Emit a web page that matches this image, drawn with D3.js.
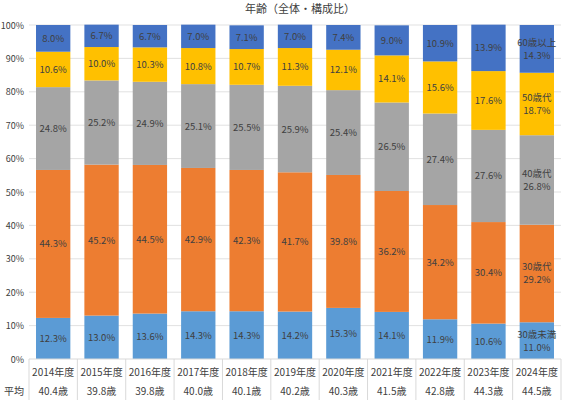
<!DOCTYPE html>
<html lang="ja">
<head>
<meta charset="UTF-8">
<title>年齢（全体・構成比）</title>
<style>
  body { margin: 0; background: #fff; }
  svg { display: block; font-family: "Noto Sans CJK JP", "Noto Sans", sans-serif; }
</style>
</head>
<body>
<div id="chart"></div>
<script src="https://d3js.org/d3.v7.min.js"></script>
<script>
// categories and series (bottom to top of each bar)
const years = ["2014年度", "2015年度", "2016年度", "2017年度", "2018年度", "2019年度",
               "2020年度", "2021年度", "2022年度", "2023年度", "2024年度"];
const averages = ["40.4歳", "39.8歳", "39.8歳", "40.0歳", "40.1歳", "40.2歳",
                  "40.3歳", "41.5歳", "42.8歳", "44.3歳", "44.5歳"];
const seriesNames = ["30歳未満", "30歳代", "40歳代", "50歳代", "60歳以上"];
const under30 = [12.3, 13.0, 13.6, 14.3, 14.3, 14.2, 15.3, 14.1, 11.9, 10.6, 11.0];
const age30s  = [44.3, 45.2, 44.5, 42.9, 42.3, 41.7, 39.8, 36.2, 34.2, 30.4, 29.2];
const age40s  = [24.8, 25.2, 24.9, 25.1, 25.5, 25.9, 25.4, 26.5, 27.4, 27.6, 26.8];
const age50s  = [10.6, 10.0, 10.3, 10.8, 10.7, 11.3, 12.1, 14.1, 15.6, 17.6, 18.7];
const over60  = [8.0, 6.7, 6.7, 7.0, 7.1, 7.0, 7.4, 9.0, 10.9, 13.9, 14.3];
const yTicks = [0, 10, 20, 30, 40, 50, 60, 70, 80, 90, 100];

const colors = ["#5B9BD5", "#ED7D31", "#A5A5A5", "#FFC000", "#4472C4"];

const width = 565, height = 400;
const margin = { top: 25, right: 4, bottom: 41, left: 29 };

const rows = years.map((y, i) => ({
  year: y,
  s0: under30[i], s1: age30s[i], s2: age40s[i], s3: age50s[i], s4: over60[i]
}));
const keys = ["s0", "s1", "s2", "s3", "s4"];
const stacked = d3.stack().keys(keys)(rows);

const svg = d3.select("#chart").append("svg")
  .attr("width", width).attr("height", height);

const x = d3.scaleBand().domain(years)
  .range([margin.left, width - margin.right]).padding(0);
const y = d3.scaleLinear().domain([0, 100])
  .range([height - margin.bottom, margin.top]);
const barW = x.bandwidth() * 0.71;
const barX = d => x(d.data.year) + (x.bandwidth() - barW) / 2;

// title
svg.append("text")
  .attr("x", 300).attr("y", 13)
  .attr("text-anchor", "middle")
  .attr("font-size", 11).attr("fill", "#404040")
  .text("年齢（全体・構成比）");

// gridlines
svg.append("g").selectAll("line").data(yTicks.slice(1)).join("line")
  .attr("x1", margin.left).attr("x2", width - margin.right)
  .attr("y1", d => y(d)).attr("y2", d => y(d))
  .attr("stroke", "#d9d9d9").attr("stroke-width", 0.8);

// y axis labels
svg.append("g").selectAll("text").data(yTicks).join("text")
  .attr("x", 24).attr("y", d => y(d) + 3.5)
  .attr("text-anchor", "end")
  .attr("font-size", 9).attr("fill", "#404040")
  .text(d => d + "%");

// bars
const layer = svg.append("g").selectAll("g").data(stacked).join("g")
  .attr("fill", (d, i) => colors[i]);
layer.selectAll("rect").data(d => d).join("rect")
  .attr("x", barX)
  .attr("width", barW)
  .attr("y", d => y(d[1]))
  .attr("height", d => y(d[0]) - y(d[1]));

// data labels
const last = years[years.length - 1];
stacked.forEach((s, si) => {
  s.forEach(d => {
    const cx = x(d.data.year) + x.bandwidth() / 2;
    const cy = (y(d[0]) + y(d[1])) / 2;
    const val = d.data[s.key].toFixed(1) + "%";
    const t = svg.append("text")
      .attr("x", cx)
      .attr("text-anchor", "middle")
      .attr("font-size", 9.5).attr("fill", "#404040");
    if (d.data.year === last) {
      t.attr("y", cy - 3);
      t.append("tspan").attr("x", cx).text(seriesNames[si]);
      t.append("tspan").attr("x", cx).attr("dy", 13).text(val);
    } else {
      t.attr("y", cy + 3.5).text(val);
    }
  });
});

// baseline and table
const base = y(0);
svg.append("line")
  .attr("x1", margin.left).attr("x2", width - margin.right)
  .attr("y1", base).attr("y2", base)
  .attr("stroke", "#d9d9d9").attr("stroke-width", 1);
svg.append("g").selectAll("line").data(years.concat(["end"])).join("line")
  .attr("x1", (d, i) => margin.left + i * x.step())
  .attr("x2", (d, i) => margin.left + i * x.step())
  .attr("y1", base).attr("y2", height)
  .attr("stroke", "#d9d9d9").attr("stroke-width", 1);

svg.append("g").selectAll("text").data(years).join("text")
  .attr("x", d => x(d) + x.bandwidth() / 2).attr("y", 376)
  .attr("text-anchor", "middle")
  .attr("font-size", 10).attr("fill", "#404040")
  .text(d => d);
svg.append("g").selectAll("text").data(averages).join("text")
  .attr("x", (d, i) => x(years[i]) + x.bandwidth() / 2).attr("y", 395)
  .attr("text-anchor", "middle")
  .attr("font-size", 10).attr("fill", "#404040")
  .text(d => d);
svg.append("text")
  .attr("x", 4).attr("y", 395)
  .attr("font-size", 10).attr("fill", "#404040")
  .text("平均");
</script>
</body>
</html>
